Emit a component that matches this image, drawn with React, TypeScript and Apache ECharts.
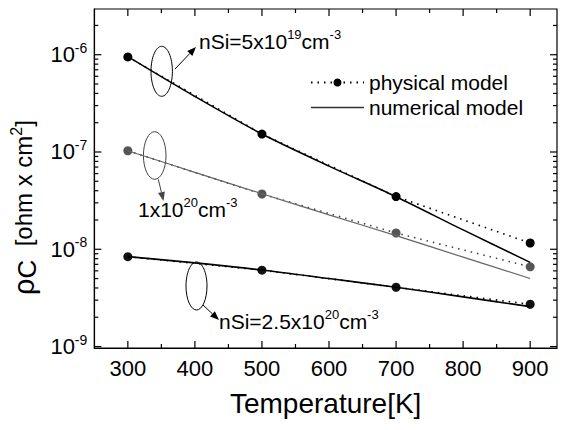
import React, { useEffect, useRef } from "react";
import * as echarts from "echarts";

// ---- data ----
const tempPhysical = [300, 500, 700, 900];
const phys5e19 = [9.5e-7, 1.53e-7, 3.48e-8, 1.16e-8];
const phys1e20 = [1.03e-7, 3.7e-8, 1.47e-8, 6.6e-9];
const phys25e20 = [8.4e-9, 6.1e-9, 4.07e-9, 2.72e-9];

const tempNumerical = [300, 400, 500, 600, 700, 800, 900];
const num5e19 = [9.55e-7, 3.72e-7, 1.53e-7, 7.16e-8, 3.47e-8, 1.58e-8, 7.33e-9];
const num1e20 = [1.03e-7, 6.17e-8, 3.72e-8, 2.26e-8, 1.38e-8, 8.3e-9, 5.0e-9];
const num25e20 = [8.4e-9, 7.24e-9, 6.12e-9, 5.0e-9, 4.07e-9, 3.24e-9, 2.57e-9];

const xMajorTicks = [300, 400, 500, 600, 700, 800, 900];
const xMinorTicks = [350, 450, 550, 650, 750, 850];
const yDecades = [1e-9, 1e-8, 1e-7, 1e-6];
const yMinorMultipliers = [2, 3, 4, 5, 6, 7, 8, 9];

const legendNames = ["physical model", "numerical model"];

const X_MIN = 250;
const X_MAX = 940;
const Y_MIN = Math.pow(10, -9.015);
const Y_MAX = Math.pow(10, -5.53);

const FONT = "'Liberation Sans', Arial, Helvetica, sans-serif";

function zip(xs: number[], ys: number[]) {
  return xs.map((x, i) => [x, ys[i]]);
}

function arrow(x1: number, y1: number, x2: number, y2: number, color: string) {
  const ang = Math.atan2(y2 - y1, x2 - x1);
  const L = 9;
  const W = 3.5;
  const c = Math.cos(ang);
  const s = Math.sin(ang);
  const bx = x2 - L * c;
  const by = y2 - L * s;
  return [
    { type: "line", shape: { x1, y1, x2: bx, y2: by }, style: { stroke: color, lineWidth: 1 }, silent: true },
    {
      type: "polygon",
      shape: { points: [[x2, y2], [bx - W * s, by + W * c], [bx + W * s, by - W * c]] },
      style: { fill: color },
      silent: true,
    },
  ];
}

function annText(x: number, y: number, text: string) {
  return {
    type: "text",
    x,
    y,
    silent: true,
    style: {
      text,
      fontSize: 21,
      fontFamily: FONT,
      fill: "#000",
      verticalAlign: "middle",
      align: "left",
      rich: {
        sup: { fontSize: 13, fontFamily: FONT, fill: "#000", padding: [0, 0, 13, 0] },
      },
    },
  };
}

export default function App() {
  const ref = useRef<HTMLDivElement>(null);

  useEffect(() => {
    if (!ref.current) return;
    const chart = echarts.init(ref.current, undefined, { renderer: "svg" });

    // tick marks data: [x, y, code] code 0=x major,1=x minor,2=y major,3=y minor
    const tickData: number[][] = [];
    xMajorTicks.forEach((v) => tickData.push([v, 1e-8, 0]));
    xMinorTicks.forEach((v) => tickData.push([v, 1e-8, 1]));
    yDecades.forEach((d) => {
      tickData.push([300, d, 2]);
      yMinorMultipliers.forEach((m) => {
        const v = d * m;
        if (v > Y_MIN && v < Y_MAX) tickData.push([300, v, 3]);
      });
    });

    const physStyle = (color: string) => ({
      type: "line",
      name: legendNames[0],
      symbol: "circle",
      symbolSize: 9,
      itemStyle: { color },
      lineStyle: { color: "#000", width: 1.6, type: [1.5, 5] },
      z: 3,
    });
    const numStyle = (color: string, width: number) => ({
      type: "line",
      name: legendNames[1],
      symbol: "none",
      smooth: 0.3,
      lineStyle: { color, width, type: "solid" },
      itemStyle: { color },
      z: 4,
    });

    const option: any = {
      animation: false,
      grid: {
        left: 93,
        right: 5,
        top: 9,
        bottom: 82,
        show: true,
        borderColor: "#000",
        borderWidth: 1.2,
        backgroundColor: "transparent",
      },
      legend: {
        data: [
          { name: legendNames[0] },
          { name: legendNames[1], itemStyle: { opacity: 0 }, lineStyle: { color: "#333", width: 1.3 } },
        ],
        orient: "vertical",
        left: 305,
        top: 67,
        itemWidth: 53,
        itemHeight: 10,
        itemGap: 4,
        textStyle: { fontSize: 21, fontFamily: FONT, color: "#000", lineHeight: 21, padding: [0, 0, 0, 0] },
        selectedMode: false,
      },
      xAxis: {
        type: "value",
        min: X_MIN,
        max: X_MAX,
        interval: 50,
        axisLine: { lineStyle: { color: "#000", width: 1.2 } },
        axisTick: { show: false },
        splitLine: { show: false },
        axisLabel: {
          fontSize: 22,
          fontFamily: FONT,
          color: "#000",
          margin: 9,
          formatter: (v: number) => (v % 100 === 0 && v >= 300 && v <= 900 ? String(v) : ""),
        },
        name: "Temperature[K]",
        nameLocation: "middle",
        nameGap: 41,
        nameTextStyle: { fontSize: 28, fontFamily: FONT, color: "#000" },
      },
      yAxis: {
        type: "log",
        logBase: 10,
        min: Y_MIN,
        max: Y_MAX,
        axisLine: { show: true, lineStyle: { color: "#000", width: 1.2 } },
        axisTick: { show: false },
        splitLine: { show: false },
        minorTick: { show: false },
        axisLabel: {
          fontSize: 22,
          fontFamily: FONT,
          color: "#000",
          margin: 7,
          formatter: (v: number) => {
            const l = Math.log10(v);
            const e = Math.round(l);
            if (Math.abs(l - e) > 1e-6) return "";
            return `10{sup|${e}}`;
          },
          rich: { sup: { fontSize: 14, fontFamily: FONT, color: "#000", padding: [0, 0, 14, 0] } },
        },
        name: "{r|ρ}{c|C}  [ohm x cm{s|2}]",
        nameLocation: "middle",
        nameRotate: 90,
        nameGap: 52,
        nameTextStyle: {
          fontSize: 24,
          fontFamily: FONT,
          color: "#000",
          padding: [0, 58, 0, 0],
          rich: {
            r: { fontSize: 29, fontFamily: FONT, color: "#000" },
            c: { fontSize: 26, fontFamily: FONT, color: "#000", padding: [6, 0, 0, 0] },
            s: { fontSize: 16, fontFamily: FONT, color: "#000", padding: [0, 0, 15, 0] },
          },
        },
      },
      series: [
        { ...physStyle("#000"), data: zip(tempPhysical, phys5e19) },
        { ...physStyle("#555"), lineStyle: { color: "#444", width: 1.6, type: [1.5, 5] }, data: zip(tempPhysical, phys1e20) },
        { ...physStyle("#111"), data: zip(tempPhysical, phys25e20) },
        { ...numStyle("#000", 1.5), data: zip(tempNumerical, num5e19) },
        { ...numStyle("#666", 1.2), data: zip(tempNumerical, num1e20) },
        { ...numStyle("#000", 1.6), data: zip(tempNumerical, num25e20) },
        {
          type: "custom",
          silent: true,
          z: 10,
          clip: false,
          dimensions: ["x", "y", "code"],
          encode: { x: 0, y: 1 },
          data: tickData,
          renderItem: (params: any, api: any) => {
            const cs = params.coordSys;
            const code = api.value(2);
            const style = { stroke: "#000", lineWidth: 1.2 };
            if (code < 2) {
              const px = api.coord([api.value(0), 1e-8])[0];
              const len = code === 0 ? 7 : 4;
              const bottom = cs.y + cs.height;
              return {
                type: "group",
                children: [
                  { type: "line", shape: { x1: px, y1: bottom, x2: px, y2: bottom - len }, style },
                  { type: "line", shape: { x1: px, y1: cs.y, x2: px, y2: cs.y + len }, style },
                ],
              };
            }
            const py = api.coord([300, api.value(1)])[1];
            const len = code === 2 ? 7 : 4;
            const right = cs.x + cs.width;
            return {
              type: "group",
              children: [
                { type: "line", shape: { x1: cs.x, y1: py, x2: cs.x + len, y2: py }, style },
                { type: "line", shape: { x1: right, y1: py, x2: right - len, y2: py }, style },
              ],
            };
          },
        },
      ],
      graphic: [
        // top annotation
        { type: "ellipse", shape: { cx: 161.7, cy: 71.3, rx: 10.7, ry: 25 }, style: { fill: "none", stroke: "#000", lineWidth: 1 }, silent: true },
        ...arrow(175, 69, 196, 47, "#000"),
        annText(199, 41, "nSi=5x10{sup|19}cm{sup|-3}"),
        // middle annotation
        { type: "ellipse", shape: { cx: 154.7, cy: 155.5, rx: 11.3, ry: 23.8 }, style: { fill: "none", stroke: "#444", lineWidth: 1 }, silent: true },
        ...arrow(158.3, 179.3, 163.5, 201, "#444"),
        annText(138, 209, "1x10{sup|20}cm{sup|-3}"),
        // bottom annotation
        { type: "ellipse", shape: { cx: 196.5, cy: 286, rx: 10.5, ry: 24 }, style: { fill: "none", stroke: "#000", lineWidth: 1 }, silent: true },
        ...arrow(203, 305, 219, 320, "#000"),
        annText(219, 321, "nSi=2.5x10{sup|20}cm{sup|-3}"),
      ],
    };

    chart.setOption(option);
    return () => chart.dispose();
  }, []);

  return <div ref={ref} style={{ width: 562, height: 430, position: "absolute", left: 0, top: 0 }} />;
}
